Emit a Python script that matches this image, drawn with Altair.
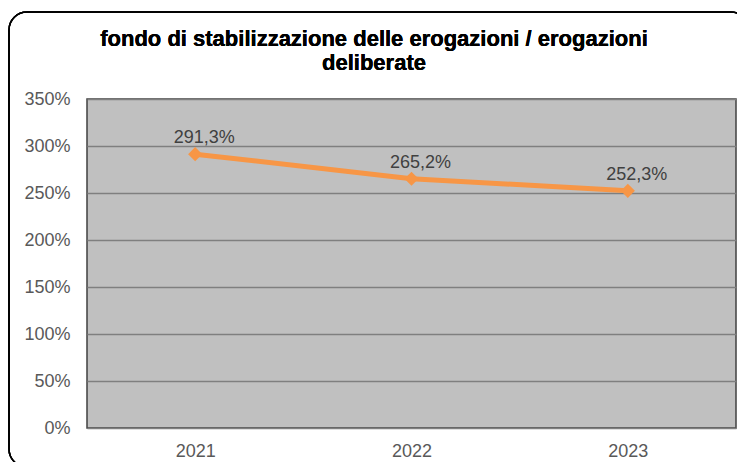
import altair as alt
import pandas as pd

years = ["2021", "2022", "2023"]
values = [291.3, 265.2, 252.3]
labels = [f"{v:.1f}%".replace(".", ",") for v in values]
y_ticks = [0, 50, 100, 150, 200, 250, 300, 350]
title_lines = ["fondo di stabilizzazione delle erogazioni / erogazioni", "deliberate"]

df = pd.DataFrame({"anno": years, "valore": values, "etichetta": labels})

FONT = "Liberation Sans"
ORANGE = "#F79646"

x_enc = alt.X("anno:N", sort=years, title=None,
              scale=alt.Scale(type="point", padding=0.5),
              axis=alt.Axis(labelAngle=0, ticks=False, tickSize=0, domain=False, grid=False,
                            labelPadding=14, labelFontSize=18, labelColor="#595959",
                            labelFont=FONT))
y_enc = alt.Y("valore:Q", title=None,
              scale=alt.Scale(domain=[0, 350], nice=False),
              axis=alt.Axis(values=y_ticks, labelExpr="datum.value + '%'", ticks=False,
                            tickSize=0, domain=False, grid=True, gridColor="#7F7F7F",
                            gridWidth=1.5, labelPadding=17, labelFontSize=18,
                            labelColor="#595959", labelFont=FONT))

base = alt.Chart(df)

frame = base.mark_rect(fill="transparent", stroke="#000000", strokeWidth=1.5,
                       cornerRadius=18).encode(
    x=alt.value(-78), x2=alt.value(662), y=alt.value(-87), y2=alt.value(368))

title1 = base.mark_text(font=FONT, fontSize=22, fontWeight="bold", color="#000000",
                        baseline="alphabetic", align="center").encode(
    x=alt.value(287), y=alt.value(-53), text=alt.value(title_lines[0]))
title2 = base.mark_text(font=FONT, fontSize=22, fontWeight="bold", color="#000000",
                        baseline="alphabetic", align="center").encode(
    x=alt.value(287), y=alt.value(-29), text=alt.value(title_lines[1]))

line = base.mark_line(color=ORANGE, strokeWidth=5).encode(x=x_enc, y=y_enc)
pts = base.mark_point(shape="diamond", filled=True, color=ORANGE, size=200, opacity=1).encode(
    x=x_enc, y=y_enc)
txt = base.mark_text(font=FONT, fontSize=18, color="#404040", dy=-11, dx=9,
                     baseline="alphabetic").encode(x=x_enc, y=y_enc, text="etichetta:N")

chart = alt.layer(frame, title1, title2, line, pts, txt).properties(
    width=649, height=329,
    autosize=alt.AutoSizeParams(type="none"),
    padding={"left": 79, "top": 91, "right": 1, "bottom": 34},
).configure(background="white").configure_view(fill="#C0C0C0", stroke="#404040",
                                                strokeWidth=1.5)

chart.save("out.html", embed_options={"renderer": "svg", "actions": False})
